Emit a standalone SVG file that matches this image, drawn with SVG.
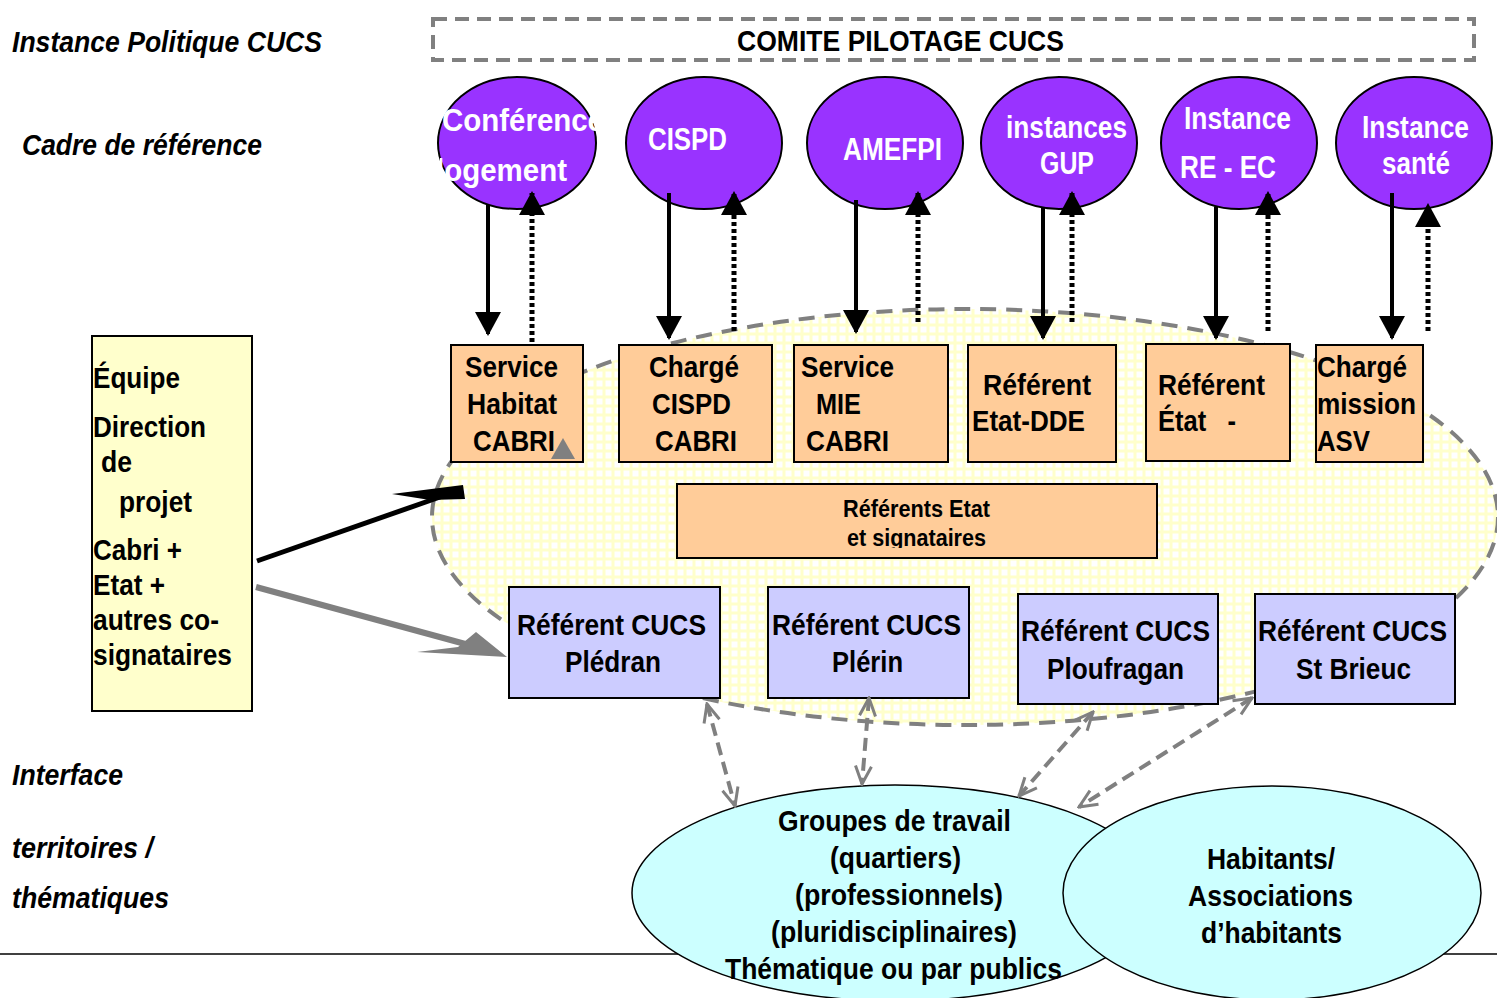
<svg xmlns="http://www.w3.org/2000/svg" width="1497" height="998" viewBox="0 0 1497 998">
<style>
text{font-family:"Liberation Sans",Arial,sans-serif;font-weight:bold;fill:#000}
.lbl{font-style:italic;font-size:29px}
.el{fill:#9933FF;stroke:#000;stroke-width:2}
.et{fill:#fff;font-size:31px}
.ob{fill:#FFCC99;stroke:#000;stroke-width:2}
.bb{fill:#CCCCFF;stroke:#000;stroke-width:2}
.bt{font-size:30px}
.cy{fill:#CCFFFF;stroke:#000;stroke-width:1.5}
.solid{stroke:#000;stroke-width:4;fill:none;marker-end:url(#ah)}
.dot{stroke:#000;stroke-width:5;fill:none;stroke-dasharray:4 3;marker-end:url(#ah)}
.gd{stroke:#808080;stroke-width:4;fill:none;stroke-dasharray:13 7;marker-start:url(#gv);marker-end:url(#gv)}
</style>
<defs>
<pattern id="grid" width="9" height="9" patternUnits="userSpaceOnUse">
<rect width="9" height="9" fill="#FFFFCC"/>
<rect x="2.5" y="2.5" width="6" height="6" fill="#fff"/>
</pattern>
<marker id="ah" markerUnits="userSpaceOnUse" markerWidth="24" markerHeight="26" viewBox="0 0 24 26" refX="22" refY="13" orient="auto">
<path d="M0,0 L24,13 L0,26 z" fill="#000"/>
</marker>
<marker id="gv" markerUnits="userSpaceOnUse" markerWidth="22" markerHeight="20" viewBox="0 0 22 20" refX="20" refY="10" orient="auto-start-reverse">
<path d="M2,2 L20,10 L2,18" fill="none" stroke="#808080" stroke-width="3"/>
</marker>
<clipPath id="c1"><rect x="440" y="90" width="157" height="110"/></clipPath>
<clipPath id="cr"><rect x="677" y="484" width="480" height="64"/></clipPath>
</defs>

<line x1="0" y1="954" x2="1497" y2="954" stroke="#000" stroke-width="1.5"/>

<g id="labels">
<text class="lbl" x="12" y="52" textLength="310" lengthAdjust="spacingAndGlyphs">Instance Politique CUCS</text>
<text class="lbl" x="22" y="155" textLength="240" lengthAdjust="spacingAndGlyphs">Cadre de référence</text>
<text class="lbl" x="12" y="785" textLength="111" lengthAdjust="spacingAndGlyphs">Interface</text>
<text class="lbl" x="12" y="858" textLength="141" lengthAdjust="spacingAndGlyphs">territoires /</text>
<text class="lbl" x="12" y="908" textLength="157" lengthAdjust="spacingAndGlyphs">thématiques</text>
</g>

<g id="comite">
<rect x="433" y="19" width="1041" height="41" fill="none" stroke="#808080" stroke-width="4" stroke-dasharray="14 8"/>
<text x="737" y="51" font-size="30" textLength="327" lengthAdjust="spacingAndGlyphs">COMITE PILOTAGE CUCS</text>
</g>

<g id="zone">
<ellipse cx="965" cy="517" rx="533" ry="208" fill="url(#grid)" stroke="#808080" stroke-width="4" stroke-dasharray="16 10"/>
</g>

<g id="inst-logement">
<ellipse class="el" cx="517" cy="143" rx="79" ry="66"/>
<g clip-path="url(#c1)">
<text class="et" x="442" y="131" textLength="162" lengthAdjust="spacingAndGlyphs">Conférence</text>
<text class="et" x="436" y="181" textLength="131" lengthAdjust="spacingAndGlyphs">logement</text>
</g>
</g>
<g id="inst-cispd">
<ellipse class="el" cx="704" cy="143" rx="78" ry="66"/>
<text class="et" x="648" y="150" textLength="79" lengthAdjust="spacingAndGlyphs">CISPD</text>
</g>
<g id="inst-amefpi">
<ellipse class="el" cx="885" cy="143" rx="78" ry="66"/>
<text class="et" x="843" y="160" textLength="99" lengthAdjust="spacingAndGlyphs">AMEFPI</text>
</g>
<g id="inst-gup">
<ellipse class="el" cx="1059" cy="143" rx="78" ry="66"/>
<text class="et" x="1006" y="138" textLength="121" lengthAdjust="spacingAndGlyphs">instances</text>
<text class="et" x="1040" y="174" textLength="54" lengthAdjust="spacingAndGlyphs">GUP</text>
</g>
<g id="inst-reec">
<ellipse class="el" cx="1239" cy="143" rx="78" ry="66"/>
<text class="et" x="1184" y="129" textLength="107" lengthAdjust="spacingAndGlyphs">Instance</text>
<text class="et" x="1180" y="178" textLength="96" lengthAdjust="spacingAndGlyphs">RE - EC</text>
</g>
<g id="inst-sante">
<ellipse class="el" cx="1414" cy="143" rx="78" ry="66"/>
<text class="et" x="1362" y="138" textLength="107" lengthAdjust="spacingAndGlyphs">Instance</text>
<text class="et" x="1382" y="174" textLength="68" lengthAdjust="spacingAndGlyphs">santé</text>
</g>

<g id="box-habitat">
<rect class="ob" x="451" y="345" width="132" height="117"/>
<text class="bt" x="465" y="377" textLength="93" lengthAdjust="spacingAndGlyphs">Service</text>
<text class="bt" x="467" y="414" textLength="90" lengthAdjust="spacingAndGlyphs">Habitat</text>
<text class="bt" x="473" y="451" textLength="82" lengthAdjust="spacingAndGlyphs">CABRI</text>
<polygon points="551,459 575,459 563,438" fill="#808080"/>
</g>
<g id="box-cispd">
<rect class="ob" x="619" y="345" width="153" height="117"/>
<text class="bt" x="649" y="377" textLength="90" lengthAdjust="spacingAndGlyphs">Chargé</text>
<text class="bt" x="652" y="414" textLength="79" lengthAdjust="spacingAndGlyphs">CISPD</text>
<text class="bt" x="655" y="451" textLength="82" lengthAdjust="spacingAndGlyphs">CABRI</text>
</g>
<g id="box-mie">
<rect class="ob" x="794" y="345" width="154" height="117"/>
<text class="bt" x="801" y="377" textLength="93" lengthAdjust="spacingAndGlyphs">Service</text>
<text class="bt" x="816" y="414" textLength="45" lengthAdjust="spacingAndGlyphs">MIE</text>
<text class="bt" x="806" y="451" textLength="83" lengthAdjust="spacingAndGlyphs">CABRI</text>
</g>
<g id="box-dde">
<rect class="ob" x="968" y="345" width="148" height="117"/>
<text class="bt" x="983" y="395" textLength="108" lengthAdjust="spacingAndGlyphs">Référent</text>
<text class="bt" x="972" y="431" textLength="113" lengthAdjust="spacingAndGlyphs">Etat-DDE</text>
</g>
<g id="box-etat">
<rect class="ob" x="1146" y="344" width="144" height="117"/>
<text class="bt" x="1158" y="395" textLength="107" lengthAdjust="spacingAndGlyphs">Référent</text>
<text class="bt" x="1158" y="431" xml:space="preserve" textLength="78" lengthAdjust="spacingAndGlyphs">État   -</text>
</g>
<g id="box-asv">
<rect class="ob" x="1316" y="345" width="107" height="117"/>
<text class="bt" x="1317" y="377" textLength="90" lengthAdjust="spacingAndGlyphs">Chargé</text>
<text class="bt" x="1317" y="414" textLength="99" lengthAdjust="spacingAndGlyphs">mission</text>
<text class="bt" x="1317" y="451" textLength="53" lengthAdjust="spacingAndGlyphs">ASV</text>
</g>
<g id="box-referents">
<rect class="ob" x="677" y="484" width="480" height="74"/>
<g clip-path="url(#cr)">
<text x="843" y="517" font-size="23" textLength="147" lengthAdjust="spacingAndGlyphs">Référents Etat</text>
<text x="847" y="546" font-size="23" textLength="139" lengthAdjust="spacingAndGlyphs">et signataires</text>
</g>
</g>

<g id="box-equipe">
<rect x="92" y="336" width="160" height="375" fill="#FFFFCC" stroke="#000" stroke-width="2"/>
<text class="bt" x="93" y="388" textLength="87" lengthAdjust="spacingAndGlyphs">Équipe</text>
<text class="bt" x="93" y="437" textLength="113" lengthAdjust="spacingAndGlyphs">Direction</text>
<text class="bt" x="101" y="472" textLength="31" lengthAdjust="spacingAndGlyphs">de</text>
<text class="bt" x="119" y="512" textLength="73" lengthAdjust="spacingAndGlyphs">projet</text>
<text class="bt" x="93" y="560" textLength="89" lengthAdjust="spacingAndGlyphs">Cabri +</text>
<text class="bt" x="93" y="595" textLength="72" lengthAdjust="spacingAndGlyphs">Etat +</text>
<text class="bt" x="93" y="630" textLength="126" lengthAdjust="spacingAndGlyphs">autres co-</text>
<text class="bt" x="93" y="665" textLength="139" lengthAdjust="spacingAndGlyphs">signataires</text>
</g>

<g id="ref-pledran">
<rect class="bb" x="509" y="587" width="211" height="111"/>
<text class="bt" x="517" y="635" textLength="189" lengthAdjust="spacingAndGlyphs">Référent CUCS</text>
<text class="bt" x="565" y="672" textLength="96" lengthAdjust="spacingAndGlyphs">Plédran</text>
</g>
<g id="ref-plerin">
<rect class="bb" x="768" y="587" width="201" height="111"/>
<text class="bt" x="772" y="635" textLength="189" lengthAdjust="spacingAndGlyphs">Référent CUCS</text>
<text class="bt" x="832" y="672" textLength="71" lengthAdjust="spacingAndGlyphs">Plérin</text>
</g>
<g id="ref-ploufragan">
<rect class="bb" x="1018" y="594" width="200" height="110"/>
<text class="bt" x="1021" y="641" textLength="189" lengthAdjust="spacingAndGlyphs">Référent CUCS</text>
<text class="bt" x="1047" y="679" textLength="137" lengthAdjust="spacingAndGlyphs">Ploufragan</text>
</g>
<g id="ref-stbrieuc">
<rect class="bb" x="1255" y="594" width="200" height="110"/>
<text class="bt" x="1258" y="641" textLength="189" lengthAdjust="spacingAndGlyphs">Référent CUCS</text>
<text class="bt" x="1296" y="679" textLength="115" lengthAdjust="spacingAndGlyphs">St Brieuc</text>
</g>

<g id="groupes">
<ellipse class="cy" cx="895" cy="893" rx="263" ry="108"/>
<text class="bt" x="778" y="831" textLength="233" lengthAdjust="spacingAndGlyphs">Groupes de travail</text>
<text class="bt" x="830" y="868" textLength="131" lengthAdjust="spacingAndGlyphs">(quartiers)</text>
<text class="bt" x="795" y="905" textLength="208" lengthAdjust="spacingAndGlyphs">(professionnels)</text>
<text class="bt" x="771" y="942" textLength="246" lengthAdjust="spacingAndGlyphs">(pluridisciplinaires)</text>
<text class="bt" x="725" y="979" textLength="337" lengthAdjust="spacingAndGlyphs">Thématique ou par publics</text>
</g>
<g id="habitants">
<ellipse class="cy" cx="1272" cy="893" rx="209" ry="107"/>
<text class="bt" x="1207" y="869" textLength="128" lengthAdjust="spacingAndGlyphs">Habitants/</text>
<text class="bt" x="1188" y="906" textLength="165" lengthAdjust="spacingAndGlyphs">Associations</text>
<text class="bt" x="1201" y="943" textLength="141" lengthAdjust="spacingAndGlyphs">d’habitants</text>
</g>

<g id="connectors">
<line class="solid" x1="488" y1="205" x2="488" y2="334"/>
<line class="dot" x1="532" y1="342" x2="532" y2="193"/>
<line class="solid" x1="669" y1="193" x2="669" y2="338"/>
<line class="dot" x1="734" y1="331" x2="734" y2="193"/>
<line class="solid" x1="856" y1="200" x2="856" y2="332"/>
<line class="dot" x1="918" y1="322" x2="918" y2="193"/>
<line class="solid" x1="1043" y1="207" x2="1043" y2="338"/>
<line class="dot" x1="1072" y1="322" x2="1072" y2="193"/>
<line class="solid" x1="1216" y1="207" x2="1216" y2="338"/>
<line class="dot" x1="1268" y1="331" x2="1268" y2="193"/>
<line class="solid" x1="1392" y1="193" x2="1392" y2="338"/>
<line class="dot" x1="1428" y1="331" x2="1428" y2="205"/>

<path d="M257,561 L440,497" stroke="#000" stroke-width="5" fill="none"/>
<polygon points="392,494 463,485 465,499 430,500" fill="#000"/>
<path d="M256,587 L480,648" stroke="#808080" stroke-width="6" fill="none"/>
<polygon points="507,657 476,632 458,647 417,652" fill="#808080"/>

<line class="gd" x1="707" y1="704" x2="735" y2="806"/>
<line class="gd" x1="869" y1="698" x2="862" y2="784"/>
<line class="gd" x1="1093" y1="712" x2="1019" y2="796"/>
<line class="gd" x1="1252" y1="698" x2="1079" y2="807"/>
</g>
</svg>
